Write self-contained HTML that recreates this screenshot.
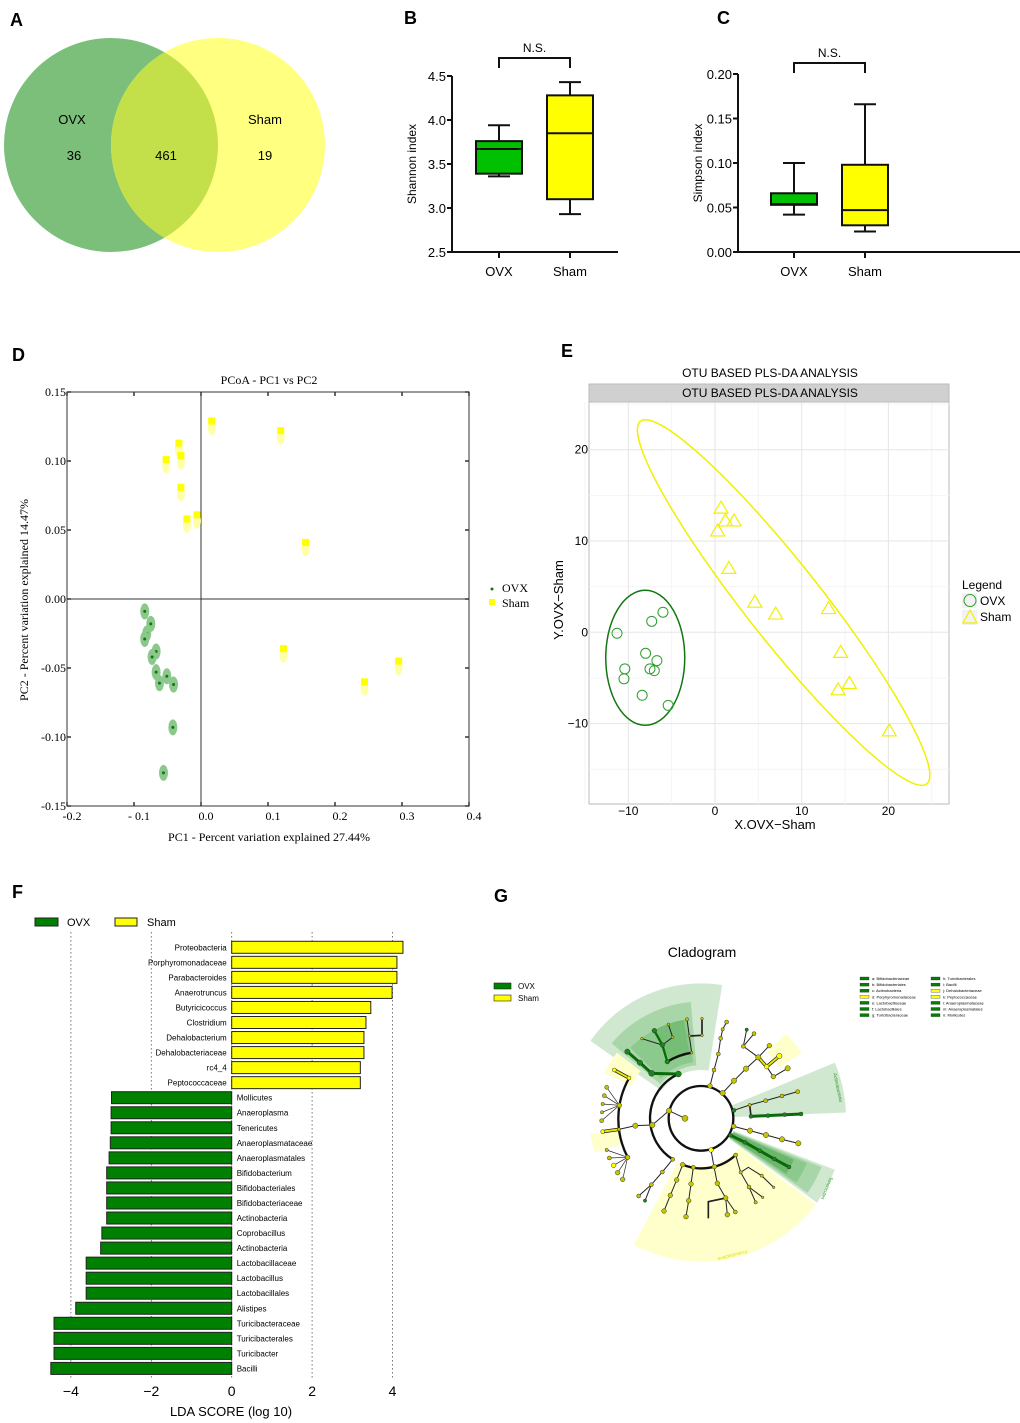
<!DOCTYPE html>
<html><head><meta charset="utf-8"><style>
html,body{margin:0;padding:0;background:#fff;}
svg{display:block;font-family:"Liberation Sans",sans-serif;}
.pl{font-weight:bold;font-size:18px;}
.serif{font-family:"Liberation Serif",serif;}
</style></head><body>
<svg id="fig" width="1020" height="1423" viewBox="0 0 1020 1423">
<text class="pl" x="10" y="26">A</text>
<text class="pl" x="404" y="24">B</text>
<text class="pl" x="717" y="24">C</text>
<text class="pl" x="12" y="361">D</text>
<text class="pl" x="561" y="357">E</text>
<text class="pl" x="12" y="898">F</text>
<text class="pl" x="494" y="902">G</text>

<g>
<defs><clipPath id="cl"><circle cx="111" cy="145" r="107"/></clipPath></defs>
<circle cx="111" cy="145" r="107" fill="#7cbf7a"/>
<circle cx="218" cy="145" r="107" fill="#ffff80"/>
<circle cx="218" cy="145" r="107" fill="#c3e04a" clip-path="url(#cl)"/>
<text x="72" y="124" font-size="13" text-anchor="middle">OVX</text>
<text x="74" y="160" font-size="13" text-anchor="middle">36</text>
<text x="166" y="160" font-size="13" text-anchor="middle">461</text>
<text x="265" y="124" font-size="13" text-anchor="middle">Sham</text>
<text x="265" y="160" font-size="13" text-anchor="middle">19</text>
</g>

<g id="pB"></g>
<g id="pC"></g>
<g id="pD"></g>
<g id="pE"></g>
<g id="pF"></g>
<g id="pG"></g>
</svg>
<script>
const boxGroups = ['OVX','Sham'];
const shannonWhiskerLow = [3.36, 2.93];
const shannonQ1 = [3.39, 3.10];
const shannonMedian = [3.67, 3.85];
const shannonQ3 = [3.76, 4.28];
const shannonWhiskerHigh = [3.94, 4.43];
const shannonTicks = [2.5, 3.0, 3.5, 4.0, 4.5];
const simpsonWhiskerLow = [0.042, 0.023];
const simpsonQ1 = [0.053, 0.030];
const simpsonMedian = [0.054, 0.047];
const simpsonQ3 = [0.066, 0.098];
const simpsonWhiskerHigh = [0.100, 0.166];
const simpsonTicks = [0.00, 0.05, 0.10, 0.15, 0.20];

const pcoaShamX = [0.016, 0.119, -0.033, -0.052, -0.030, -0.030, -0.006, -0.021, 0.156, 0.123, 0.295, 0.244];
const pcoaShamY = [0.129, 0.122, 0.113, 0.101, 0.104, 0.081, 0.061, 0.058, 0.041, -0.036, -0.045, -0.060];
const pcoaOvxX = [-0.084, -0.075, -0.081, -0.084, -0.067, -0.073, -0.067, -0.051, -0.062, -0.041, -0.042, -0.056];
const pcoaOvxY = [-0.009, -0.018, -0.025, -0.029, -0.038, -0.042, -0.053, -0.056, -0.061, -0.062, -0.093, -0.126];
const pcoaXTicks = [-0.2, -0.1, 0.0, 0.1, 0.2, 0.3, 0.4];
const pcoaXTickLabels = ['-0.2', '- 0.1', '0.0', '0.1', '0.2', '0.3', '0.4'];
const pcoaYTicks = [0.15, 0.10, 0.05, 0.00, -0.05, -0.10, -0.15];
const pcoaYTickLabels = ['0.15', '0.10', '0.05', '0.00', '-0.05', '-0.10', '-0.15'];

const plsOvxX = [-11.3, -10.4, -10.5, -8.4, -8.0, -7.3, -6.0, -6.7, -7.5, -7.0, -5.4];
const plsOvxY = [-0.1, -4.0, -5.1, -6.9, -2.3, 1.2, 2.2, -3.1, -4.0, -4.2, -8.0];
const plsShamX = [0.7, 1.2, 2.2, 0.3, 1.6, 4.6, 7.0, 13.1, 14.5, 15.5, 14.2, 20.1];
const plsShamY = [13.6, 12.2, 12.2, 11.1, 7.0, 3.3, 2.0, 2.6, -2.2, -5.6, -6.3, -10.8];
const plsXTicks = [-10, 0, 10, 20];
const plsYTicks = [20, 10, 0, -10];

const ldaLabels = ['Proteobacteria','Porphyromonadaceae','Parabacteroides','Anaerotruncus','Butyricicoccus','Clostridium','Dehalobacterium','Dehalobacteriaceae','rc4_4','Peptococcaceae','Mollicutes','Anaeroplasma','Tenericutes','Anaeroplasmataceae','Anaeroplasmatales','Bifidobacterium','Bifidobacteriales','Bifidobacteriaceae','Actinobacteria','Coprobacillus','Actinobacteria','Lactobacillaceae','Lactobacillus','Lactobacillales','Alistipes','Turicibacteraceae','Turicibacterales','Turicibacter','Bacilli'];
const ldaScores = [4.26,4.11,4.11,3.99,3.46,3.34,3.29,3.29,3.20,3.20,-2.99,-3.00,-3.00,-3.02,-3.05,-3.11,-3.11,-3.11,-3.11,-3.23,-3.26,-3.62,-3.62,-3.62,-3.88,-4.42,-4.42,-4.42,-4.50];
const ldaTicks = [-4, -2, 0, 2, 4];
const ldaTickLabels = ['\u22124', '\u22122', '0', '2', '4'];

const NS = 'http://www.w3.org/2000/svg';
function mk(parent, tag, attrs, txt) {
  const e = document.createElementNS(NS, tag);
  for (const k in attrs) e.setAttribute(k, attrs[k]);
  if (txt !== undefined) e.textContent = txt;
  parent.appendChild(e);
  return e;
}

function boxPanel(g, axX, axRight, yTop, yBot, vMin, vMax, ticks, fmt, lo, q1, med, q3, hi, xs, title, bracketY) {
  const ys = v => yBot - (v - vMin) / (vMax - vMin) * (yBot - yTop);
  let a = mk(g, 'line', {x1: axX, y1: yTop, x2: axX, y2: yBot, stroke: '#111', 'stroke-width': 2});
  
  
  a = mk(g, 'line', {x1: axX, y1: yBot, x2: axRight, y2: yBot, stroke: '#111', 'stroke-width': 2});
  
  
  ticks.forEach(t => {
    const tk = mk(g, 'line', {x1: axX - 5, y1: ys(t), x2: axX, y2: ys(t), stroke: '#111', 'stroke-width': 2});
    
    
    const tl = mk(g, 'text', {x: axX - 6, y: ys(t) + 5, 'font-size': 13, 'text-anchor': 'end'}, fmt(t));
    
    
  });
  const yt = mk(g, 'text', {x: 0, y: 0, 'font-size': 12, 'text-anchor': 'middle', transform: `translate(${axX - 36},${(yTop + yBot) / 2}) rotate(-90)`}, title);
  
  
  const fills = ['#00c000', '#ffff00'];
  boxGroups.forEach((grp, i) => {
    const cx = xs[i];
    const tk = mk(g, 'line', {x1: cx, y1: yBot, x2: cx, y2: yBot + 6, stroke: '#111', 'stroke-width': 2});
    
    
    const lb = mk(g, 'text', {x: cx, y: yBot + 24, 'font-size': 13, 'text-anchor': 'middle'}, grp);
    
    
    const w = mk(g, 'line', {x1: cx, y1: ys(hi[i]), x2: cx, y2: ys(lo[i]), stroke: '#111', 'stroke-width': 2});
    
    
    [hi[i], lo[i]].forEach(v => {
      const c = mk(g, 'line', {x1: cx - 11, y1: ys(v), x2: cx + 11, y2: ys(v), stroke: '#111', 'stroke-width': 2});
      
      
    });
    const b = mk(g, 'rect', {x: cx - 23, y: ys(q3[i]), width: 46, height: ys(q1[i]) - ys(q3[i]), fill: fills[i], stroke: '#111', 'stroke-width': 2});
    
    
    const m = mk(g, 'line', {x1: cx - 24, y1: ys(med[i]), x2: cx + 24, y2: ys(med[i]), stroke: '#111', 'stroke-width': 2});
    
    
  });
  const br = mk(g, 'path', {d: `M${xs[0]},${bracketY + 10} V${bracketY} H${xs[1]} V${bracketY + 10}`, fill: 'none', stroke: '#111', 'stroke-width': 2});
  
  
  const ns = mk(g, 'text', {x: (xs[0] + xs[1]) / 2, y: bracketY - 6, 'font-size': 12, 'text-anchor': 'middle'}, 'N.S.');
  
  
}
boxPanel(document.getElementById('pB'), 452, 618, 76, 252, 2.5, 4.5, shannonTicks, t => t.toFixed(1),
  shannonWhiskerLow, shannonQ1, shannonMedian, shannonQ3, shannonWhiskerHigh, [499, 570], 'Shannon index', 58);
boxPanel(document.getElementById('pC'), 738, 1020, 74, 252, 0, 0.2, simpsonTicks, t => t.toFixed(2),
  simpsonWhiskerLow, simpsonQ1, simpsonMedian, simpsonQ3, simpsonWhiskerHigh, [794, 865], 'Simpson index', 63);

(function () {
  const g = document.getElementById('pD');
  const L = 67, R = 469, T = 392, B = 806;
  const xD = v => L + (v + 0.2) / 0.6 * (R - L);
  const yD = v => T + (0.15 - v) / 0.3 * (B - T);
  const f = mk(g, 'rect', {x: L, y: T, width: R - L, height: B - T, fill: 'none', stroke: '#333', 'stroke-width': 1});
  
  
  let z = mk(g, 'line', {x1: L, y1: yD(0), x2: R, y2: yD(0), stroke: '#333'});
  
  
  z = mk(g, 'line', {x1: xD(0), y1: T, x2: xD(0), y2: B, stroke: '#333'});
  
  
  pcoaXTicks.forEach((t, i) => {
    const x = xD(t);
    const a = mk(g, 'path', {d: `M${x},${T} v4 M${x},${B} v-4`, stroke: '#333', 'stroke-width': 1.5});
    
    
    const l = mk(g, 'text', {x: x + 5, y: B + 14, 'font-size': 12, 'text-anchor': 'middle', class: 'serif'}, pcoaXTickLabels[i]);
    
    
  });
  pcoaYTicks.forEach((t, i) => {
    const y = yD(t);
    const a = mk(g, 'path', {d: `M${L},${y} h4 M${R},${y} h-4`, stroke: '#333', 'stroke-width': 1.5});
    
    
    const l = mk(g, 'text', {x: L - 1, y: y + 4, 'font-size': 12, 'text-anchor': 'end', class: 'serif'}, pcoaYTickLabels[i]);
    
    
  });
  pcoaShamX.forEach((v, i) => {
    const x = xD(v), y = yD(pcoaShamY[i]);
    const e = mk(g, 'ellipse', {cx: x, cy: y + 6, rx: 4, ry: 8, fill: '#ffffa8'});
    
    
    const p = mk(g, 'rect', {x: x - 3.5, y: y - 3.5, width: 7, height: 7, fill: '#ffff00'});
    
    
  });
  pcoaOvxX.forEach((v, i) => {
    const x = xD(v), y = yD(pcoaOvxY[i]);
    const e = mk(g, 'ellipse', {cx: x, cy: y, rx: 4.5, ry: 8, fill: '#8cc88c'});
    
    
    const p = mk(g, 'circle', {cx: x, cy: y, r: 1.5, fill: '#117711'});
    
    
  });
  let t = mk(g, 'text', {x: 269, y: 384, 'font-size': 12, 'text-anchor': 'middle', class: 'serif'}, 'PCoA - PC1 vs PC2');
  
  
  t = mk(g, 'text', {x: 269, y: 841, 'font-size': 12, 'text-anchor': 'middle', class: 'serif'}, 'PC1 - Percent variation explained 27.44%');
  
  
  t = mk(g, 'text', {x: 0, y: 0, 'font-size': 12, 'text-anchor': 'middle', class: 'serif', transform: 'translate(28,600) rotate(-90)'}, 'PC2 - Percent variation explained 14.47%');
  
  
  let m = mk(g, 'circle', {cx: 492, cy: 589, r: 1.5, fill: '#117711'});
  
  
  t = mk(g, 'text', {x: 502, y: 592, 'font-size': 12, class: 'serif'}, 'OVX');
  
  
  m = mk(g, 'rect', {x: 489, y: 599, width: 6, height: 6, fill: '#ffff00'});
  
  
  t = mk(g, 'text', {x: 502, y: 607, 'font-size': 12, class: 'serif'}, 'Sham');
  
  
})();

(function () {
  const g = document.getElementById('pE');
  const L = 589, R = 949, T = 402, B = 804;
  const xE = v => 715 + v * 8.67;
  const yE = v => 632.3 - v * 9.13;
  const bg = mk(g, 'rect', {x: L, y: T, width: R - L, height: B - T, fill: '#fff', stroke: '#bbb'});
  
  
  [-15, -5, 5, 15, 25].forEach(v => {
    const l = mk(g, 'line', {x1: xE(v), y1: T, x2: xE(v), y2: B, stroke: '#f4f4f4'});
    
    
  });
  [25, 15, 5, -5, -15].forEach(v => {
    const l = mk(g, 'line', {x1: L, y1: yE(v), x2: R, y2: yE(v), stroke: '#f4f4f4'});
    
    
  });
  plsXTicks.forEach(v => {
    const l = mk(g, 'line', {x1: xE(v), y1: T, x2: xE(v), y2: B, stroke: '#e6e6e6'});
    
    
    const t = mk(g, 'text', {x: xE(v), y: B + 11, 'font-size': 12, 'text-anchor': 'middle'}, v < 0 ? '\u2212' + Math.abs(v) : String(v));
    
    
  });
  plsYTicks.forEach(v => {
    const l = mk(g, 'line', {x1: L, y1: yE(v), x2: R, y2: yE(v), stroke: '#e6e6e6'});
    
    
    const t = mk(g, 'text', {x: L - 1, y: yE(v) + 4, 'font-size': 12, 'text-anchor': 'end'}, v < 0 ? '\u2212' + Math.abs(v) : String(v));
    
    
  });
  const strip = mk(g, 'rect', {x: L, y: 384, width: R - L, height: 18, fill: '#d0d0d0', stroke: '#bbb'});
  
  
  let t = mk(g, 'text', {x: 770, y: 397, 'font-size': 12, 'text-anchor': 'middle'}, 'OTU BASED PLS-DA ANALYSIS');
  
  
  t = mk(g, 'text', {x: 770, y: 377, 'font-size': 12, 'text-anchor': 'middle'}, 'OTU BASED PLS-DA ANALYSIS');
  
  
  const mean = a => a.reduce((s, v) => s + v, 0) / a.length;
  const ge = mk(g, 'ellipse', {cx: xE(mean(plsOvxX)), cy: yE(mean(plsOvxY)) - 3, rx: 39.5, ry: 67.5, fill: 'none', stroke: '#117711', 'stroke-width': 1.5});
  
  
  const ycx = xE(mean(plsShamX)), ycy = yE(mean(plsShamY));
  const ye = mk(g, 'ellipse', {cx: ycx, cy: ycy, rx: 231, ry: 38, fill: 'none', stroke: '#f0f000', 'stroke-width': 1.5, transform: `rotate(51.7 ${ycx} ${ycy})`});
  
  
  plsOvxX.forEach((v, i) => {
    const c = mk(g, 'circle', {cx: xE(v), cy: yE(plsOvxY[i]), r: 5, fill: 'none', stroke: '#2e9e2e', 'stroke-width': 1});
    
    
  });
  plsShamX.forEach((v, i) => {
    const x = xE(v), y = yE(plsShamY[i]);
    const p = mk(g, 'path', {d: `M${x},${y - 7} L${x + 7},${y + 5} L${x - 7},${y + 5} Z`, fill: 'none', stroke: '#f0f000', 'stroke-width': 1.2});
    
    
  });
  t = mk(g, 'text', {x: 775, y: 829, 'font-size': 13, 'text-anchor': 'middle'}, 'X.OVX\u2212Sham');
  
  
  t = mk(g, 'text', {x: 0, y: 0, 'font-size': 13, 'text-anchor': 'middle', transform: 'translate(563,600) rotate(-90)'}, 'Y.OVX\u2212Sham');
  
  
  t = mk(g, 'text', {x: 962, y: 589, 'font-size': 12}, 'Legend');
  
  
  let k = mk(g, 'rect', {x: 962, y: 593, width: 15, height: 15, fill: '#f2f2f2'});
  
  
  k = mk(g, 'circle', {cx: 970, cy: 600.5, r: 6, fill: 'none', stroke: '#2e9e2e'});
  
  
  t = mk(g, 'text', {x: 980, y: 605, 'font-size': 12}, 'OVX');
  
  
  k = mk(g, 'rect', {x: 962, y: 610, width: 15, height: 15, fill: '#f2f2f2'});
  
  
  k = mk(g, 'path', {d: 'M970,610 L977,623 L963,623 Z', fill: 'none', stroke: '#f0f000', 'stroke-width': 1.2});
  
  
  t = mk(g, 'text', {x: 980, y: 621, 'font-size': 12}, 'Sham');
  
  
})();

(function () {
  const g = document.getElementById('pF');
  const xF = v => 231.7 + v * 40.2;
  const y0 = 947.3, step = 15.04;
  ldaTicks.forEach((t, i) => {
    const l = mk(g, 'line', {x1: xF(t), y1: 932, x2: xF(t), y2: 1380, stroke: '#555', 'stroke-width': 0.8, 'stroke-dasharray': '1.5,2.5'});
    
    
    const tl = mk(g, 'text', {x: xF(t), y: 1396, 'font-size': 14, 'text-anchor': 'middle'}, ldaTickLabels[i]);
    
    
  });
  ldaScores.forEach((v, i) => {
    const y = y0 + i * step;
    const x1 = Math.min(xF(0), xF(v)), w = Math.abs(xF(v) - xF(0));
    const b = mk(g, 'rect', {x: x1, y: y - 6, width: w, height: 12, fill: v > 0 ? '#ffff00' : '#008000', stroke: '#222', 'stroke-width': 1});
    
    
    const t = mk(g, 'text', {x: v > 0 ? xF(0) - 5 : xF(0) + 5, y: y + 3, 'font-size': 8, 'text-anchor': v > 0 ? 'end' : 'start'}, ldaLabels[i]);
    
    
  });
  let r = mk(g, 'rect', {x: 35, y: 918, width: 23, height: 8, fill: '#008000', stroke: '#222'});
  
  
  let t = mk(g, 'text', {x: 67, y: 926, 'font-size': 11}, 'OVX');
  
  
  r = mk(g, 'rect', {x: 115, y: 918, width: 22, height: 8, fill: '#ffff00', stroke: '#222'});
  
  
  t = mk(g, 'text', {x: 147, y: 926, 'font-size': 11}, 'Sham');
  
  
  t = mk(g, 'text', {x: 231, y: 1416, 'font-size': 13, 'text-anchor': 'middle'}, 'LDA SCORE (log 10)');
  
  
})();

(function () {
  const root = document.getElementById('pG');
  let t = mk(root, 'text', {x: 702, y: 957, 'font-size': 14, 'text-anchor': 'middle'}, 'Cladogram');
  
  
  let r = mk(root, 'rect', {x: 494, y: 983, width: 17, height: 6, fill: '#008000', stroke: '#222', 'stroke-width': 0.6});
  
  
  t = mk(root, 'text', {x: 518, y: 989, 'font-size': 8}, 'OVX');
  
  
  r = mk(root, 'rect', {x: 494, y: 995, width: 17, height: 6, fill: '#ffff00', stroke: '#222', 'stroke-width': 0.6});
  
  
  t = mk(root, 'text', {x: 518, y: 1001, 'font-size': 8}, 'Sham');
  
  
  const taxa = ['a: Bifidobacteriaceae','b: Bifidobacteriales','c: Actinobacteria','d: Porphyromonadaceae','e: Lactobacillaceae','f: Lactobacillales','g: Turicibacteraceae','h: Turicibacterales','i: Bacilli','j: Dehalobacteriaceae','k: Peptococcaceae','l: Anaeroplasmataceae','m: Anaeroplasmatales','n: Mollicutes'];
  const taxaSham = [3, 9, 10];
  taxa.forEach((s, i) => {
    const col = Math.floor(i / 7), row = i % 7;
    const x = 860 + col * 71, y = 979 + row * 6.1;
    const sw = mk(root, 'rect', {x: x, y: y - 2, width: 9, height: 3, fill: taxaSham.includes(i) ? '#ffff00' : '#008000', stroke: '#222', 'stroke-width': 0.3});
    
    
    const tx = mk(root, 'text', {x: x + 12, y: y + 1, 'font-size': 4}, s);
    
    
  });

  const g = mk(root, 'g', {transform: 'translate(490,930) scale(0.33333)'});
  const C = [633, 565];
  function wedge(r1, r2, a1, a2, fill, name) {
    const rad = a => a * Math.PI / 180;
    const p = (r, a) => [C[0] + r * Math.cos(rad(a)), C[1] + r * Math.sin(rad(a))];
    const A = p(r2, a1), Bp = p(r2, a2), Cc = p(r1, a2), D = p(r1, a1);
    const big = Math.abs(a2 - a1) > 180 ? 1 : 0;
    const w = mk(g, 'path', {d: `M${A} A${r2},${r2} 0 ${big} 1 ${Bp} L${Cc} A${r1},${r1} 0 ${big} 0 ${D} Z`, fill: fill});
    
    
  }
  wedge(145, 405, -145, -81, '#cfe8cf', 'bacilli-wedge');
  wedge(160, 350, -140, -95, '#a9d6a9', 'lactobacillales-wedge');
  wedge(170, 300, -135, -98, '#8cc98c', 'lactobacillaceae-wedge');
  wedge(200, 300, -118, -100, '#76bd76', 'lactobacillus-wedge');
  wedge(100, 435, -22.6, -2.3, '#cfe8cf', 'actinobacteria-wedge');
  wedge(105, 430, 21, 36, '#cfe8cf', 'tenericutes-wedge');
  wedge(105, 390, 22, 35, '#a9d6a9', 'mollicutes-wedge');
  wedge(105, 345, 23, 34, '#8cc98c', 'anaeroplasmatales-wedge');
  wedge(105, 305, 24, 33, '#6bb76b', 'anaeroplasma-wedge');
  wedge(145, 430, 37, 118, '#ffffcc', 'proteobacteria-wedge');
  wedge(230, 320, -155, -142, '#ffffcc', 'dehalobacteriaceae-wedge');
  wedge(250, 335, 162, 172, '#ffffcc', 'peptococcaceae-wedge');
  wedge(280, 360, -45, -33, '#ffffcc', 'porphyromonadaceae-wedge');

  const circ = mk(g, 'circle', {cx: C[0], cy: C[1], r: 97, fill: 'none', stroke: '#111', 'stroke-width': 7});
  
  
  const arcs = [
    'M565,432 A146,146 0 0 0 548,688',
    'M532,395 A199,199 0 0 1 605,368',
    'M418,443 A250,250 0 0 0 413,682',
    'M578,704 A150,150 0 0 0 737,675'];
  arcs.forEach(d => {
    const a = mk(g, 'path', {d: d, fill: 'none', stroke: '#111', 'stroke-width': 7});
    
    
  });
  const K = '#222', GR = '#0a6a0a', YE = '#e8e800';
  const branches = [
    ['565,432 485,430 450,398 412,365', GR, 9],
    ['532,395 517,345 493,302', GR, 7],
    ['605,368 598,318 591,268', K, 3], ['598,318 636,316 636,266', K, 5],
    ['517,345 548,322 535,283', K, 3], ['517,345 456,326', K, 3],
    ['660,468 672,420 685,372 692,325 698,298 710,276', K, 3],
    ['698,489 732,452 768,416 805,382 838,347', K, 3],
    ['805,382 760,349 770,299', K, 3], ['760,349 792,311', K, 3],
    ['805,382 830,410 868,378', YE, 7], ['830,410 850,440 893,415', K, 3],
    ['732,541 779,525 827,512 876,498 923,485', K, 3],
    ['779,525 783,559', K, 5], ['783,559 933,552', GR, 9],
    ['731,589 780,602 828,615 876,628 925,640', K, 3],
    ['722,616 765,637 809,662 853,687 897,711', GR, 9],
    ['585,565 537,542 487,585', K, 3],
    ['487,585 436,587 387,598', K, 3], ['387,598 338,605', YE, 7],
    ['417,444 373,420', YE, 7],
    ['388,526 350,472', K, 2], ['388,526 343,497', K, 2], ['388,526 338,522', K, 2], ['388,526 336,547', K, 2], ['388,526 335,572', K, 2],
    ['413,682 350,660', K, 2], ['413,682 358,684', K, 2], ['413,682 371,706', K, 2], ['413,682 383,728', K, 2], ['413,682 398,748', K, 2],
    ['548,688 517,726 484,764 446,798', K, 3], ['484,764 465,812', K, 3],
    ['578,704 560,750 541,796 522,843', K, 3], ['610,712 603,762 596,812 588,860', K, 3],
    ['663,660 672,710 682,760 707,804 712,854', K, 3], ['707,804 736,846', K, 3],
    ['707,804 655,815 655,865', K, 5],
    ['737,675 752,727 777,771 797,817', K, 3], ['777,771 818,802', K, 3],
    ['752,727 775,712 815,737 851,772', K, 3]
  ];
  branches.forEach(b => {
    const l = mk(g, 'polyline', {points: b[0], fill: 'none', stroke: b[1] === YE ? '#111' : b[1], 'stroke-width': b[2] + (b[1] === YE ? 3 : 0)});
    
    
    if (b[1] === YE) {
      const l2 = mk(g, 'polyline', {points: b[0], fill: 'none', stroke: YE, 'stroke-width': b[2] - 1});
      
      
    }
  });
  const greenNodes = ['565,432,9','485,430,9','450,398,8','412,365,8','532,395,7','517,345,7','493,302,7','770,299,5','732,541,6','783,559,6','834,557,6','884,554,6','933,552,6','722,616,6','765,637,6','809,662,6','853,687,6','897,711,6','465,812,5'];
  const brightNodes = ['830,410,7','868,378,8','417,444,6','373,420,6','338,605,6','663,660,7','371,706,7'];
  const oliveNodes = ['537,542,8','585,565,9','487,585,8','436,587,8','660,468,7','698,489,8','732,452,8','768,416,8','805,382,8','838,347,7','760,349,6','792,311,6','893,415,8','850,440,7','672,420,6','685,372,6','692,325,6','698,298,5','710,276,6','605,368,4','598,318,4','591,268,5','636,266,4','636,316,4','548,322,4','535,283,4','456,326,4','388,526,7','350,472,6','343,497,6','338,522,5','336,547,5','335,572,6','387,598,5','413,682,7','350,660,5','358,684,6','383,728,7','398,748,7','548,688,6','517,726,6','484,764,6','446,798,6','578,704,7','560,750,7','541,796,7','522,843,7','610,712,6','603,762,7','596,812,7','588,860,7','673,710,7','682,760,7','707,804,7','712,854,7','736,846,6','737,675,6','752,727,5','777,771,6','797,817,5','815,737,5','851,772,4','818,802,4','779,525,5','827,512,6','876,498,6','923,485,6','731,589,7','780,602,8','828,615,8','876,628,8','925,640,8'];
  function nodes(list, fill, name) {
    list.forEach(s => {
      const [x, y, rr] = s.split(',').map(Number);
      const c = mk(g, 'circle', {cx: x, cy: y, r: rr, fill: fill, stroke: '#333', 'stroke-width': 1.5});
      
      
    });
  }
  nodes(oliveNodes, '#c4c400', 'tree-node');
  nodes(greenNodes, '#138a13', 'tree-node-ovx');
  nodes(brightNodes, '#ffff00', 'tree-node-sham');
  let lt = mk(g, 'text', {x: 0, y: 0, 'font-size': 14, fill: '#2a9a2a', transform: 'translate(1030,430) rotate(78)'}, 'Actinobacteria');
  
  
  lt = mk(g, 'text', {x: 0, y: 0, 'font-size': 14, fill: '#2a9a2a', transform: 'translate(1020,740) rotate(112)'}, 'Tenericutes');
  
  
  lt = mk(g, 'text', {x: 0, y: 0, 'font-size': 14, fill: '#e0e000', transform: 'translate(770,960) rotate(165)'}, 'Proteobacteria');
  
  
})();
</script>
</body></html>
